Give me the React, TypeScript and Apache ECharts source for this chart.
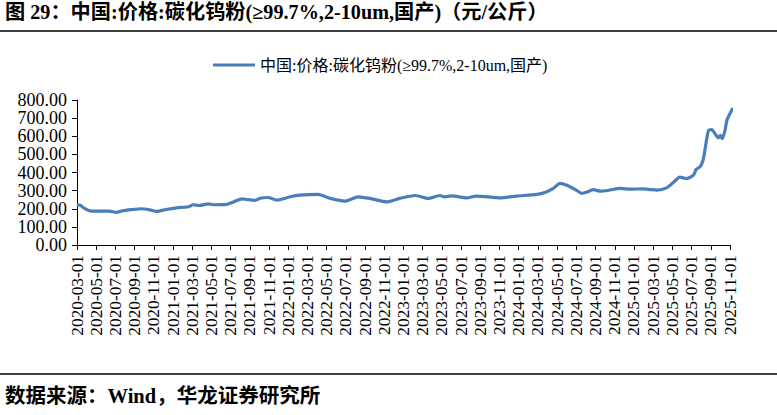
import React, { useEffect, useRef } from "react";
import * as echarts from "echarts";

const seriesName = "中国:价格:碳化钨粉(≥99.7%,2-10um,国产)";
const titleText = "图 29：中国:价格:碳化钨粉(≥99.7%,2-10um,国产)（元/公斤）";
const sourceText = "数据来源：Wind，华龙证券研究所";

const dates = [
  "2020-03-01", "2020-03-10", "2020-03-25", "2020-04-15", "2020-06-12", "2020-07-04", "2020-07-25",
  "2020-08-28", "2020-09-18", "2020-10-19", "2020-11-10", "2020-12-10", "2021-01-13", "2021-02-18",
  "2021-03-04", "2021-03-25", "2021-04-21", "2021-05-07", "2021-06-19", "2021-07-10", "2021-08-07",
  "2021-08-22", "2021-09-16", "2021-10-07", "2021-10-28", "2021-11-25", "2022-01-07", "2022-02-07",
  "2022-04-04", "2022-05-13", "2022-06-28", "2022-08-10", "2022-09-16", "2022-11-10", "2022-12-19",
  "2023-02-07", "2023-03-19", "2023-04-25", "2023-05-10", "2023-06-01", "2023-07-19", "2023-08-19",
  "2023-11-04", "2023-12-25", "2024-02-27", "2024-03-28", "2024-04-19", "2024-05-10", "2024-06-01",
  "2024-06-28", "2024-07-19", "2024-08-04", "2024-08-25", "2024-09-16", "2024-10-16", "2024-11-19",
  "2024-12-19", "2025-02-01", "2025-02-22", "2025-03-13", "2025-04-13", "2025-05-04", "2025-05-25",
  "2025-06-16", "2025-07-07", "2025-07-16", "2025-07-28", "2025-08-07", "2025-08-13", "2025-08-19",
  "2025-08-25", "2025-09-04", "2025-09-16", "2025-09-25", "2025-10-01", "2025-10-07", "2025-10-16",
  "2025-10-22", "2025-11-01", "2025-11-10",
];

const prices = [
  220, 220, 202, 187, 187, 180, 189,
  196, 200, 194, 185, 196, 205, 211,
  222, 218, 227, 222, 224, 237, 255,
  251, 246, 259, 262, 248, 266, 275,
  279, 257, 242, 266, 257, 238, 257,
  273, 257, 273, 266, 271, 260, 270,
  260, 270, 279, 293, 312, 340, 330,
  306, 285, 292, 306, 297, 303, 312,
  308, 310, 306, 303, 315, 345, 374,
  367, 385, 418, 431, 468, 523, 587,
  633, 637, 609, 591, 605, 587, 633,
  688, 725, 756,
];

const yTicks = { min: 0, max: 800, step: 100 };
const xTicks = { startYear: 2020, startMonth: 3, stepMonths: 2, lastIndex: 68 };

function monthIndex(d: string): number {
  const [y, m, day] = d.split("-").map(Number);
  const dim = new Date(y, m, 0).getDate();
  return (y - xTicks.startYear) * 12 + (m - xTicks.startMonth) + (day - 1) / dim;
}

function monthLabel(v: number): string {
  const total = xTicks.startMonth - 1 + Math.round(v);
  const y = xTicks.startYear + Math.floor(total / 12);
  const m = (total % 12) + 1;
  return `${y}-${String(m).padStart(2, "0")}-01`;
}

export default function App() {
  const ref = useRef<HTMLDivElement>(null);
  useEffect(() => {
    if (!ref.current) return;
    const chart = echarts.init(ref.current, undefined, { renderer: "svg" });
    const data = dates.map((d, i) => [monthIndex(d), prices[i]]);
    const serif = "'Liberation Serif', 'Times New Roman', 'Noto Sans CJK SC', serif";
    chart.setOption({
      animation: false,
      backgroundColor: "#ffffff",
      grid: { left: 77, right: 47, top: 100, bottom: 170, containLabel: false },
      legend: {
        left: 208,
        top: 52,
        icon: "rect",
        itemWidth: 42,
        itemHeight: 3,
        textStyle: { fontFamily: serif, fontSize: 16, color: "#000" },
        data: [seriesName],
      },
      xAxis: {
        type: "value",
        min: 0,
        max: xTicks.lastIndex,
        interval: xTicks.stepMonths,
        splitLine: { show: false },
        axisLine: { lineStyle: { color: "#000", width: 1 } },
        axisTick: { length: 5, lineStyle: { color: "#000" } },
        axisLabel: {
          rotate: 90,
          margin: 10,
          color: "#000",
          fontFamily: serif,
          fontSize: 17.3,
          formatter: (v: number) => monthLabel(v),
        },
      },
      yAxis: {
        type: "value",
        min: yTicks.min,
        max: yTicks.max,
        interval: yTicks.step,
        splitLine: { show: false },
        axisLine: { show: true, lineStyle: { color: "#000", width: 1 } },
        axisTick: { show: true, length: 5, lineStyle: { color: "#000" } },
        axisLabel: {
          margin: 10,
          color: "#000",
          fontFamily: serif,
          fontSize: 18,
          formatter: (v: number) => v.toFixed(2),
        },
      },
      series: [
        {
          name: seriesName,
          type: "line",
          data,
          showSymbol: false,
          symbol: "none",
          clip: false,
          smooth: 0.2,
          lineStyle: { color: "#4A7EBB", width: 3.2 },
          itemStyle: { color: "#4A7EBB" },
        },
      ],
      graphic: [
        {
          type: "text",
          left: 5,
          top: 2,
          style: {
            text: titleText,
            fontFamily: serif,
            fontWeight: "bold",
            fontSize: 20.2,
            fill: "#000",
          },
        },
        {
          type: "line",
          shape: { x1: 0, y1: 31, x2: 777, y2: 31 },
          style: { stroke: "#000", lineWidth: 1.5 },
        },
        {
          type: "line",
          shape: { x1: 0, y1: 374, x2: 777, y2: 374 },
          style: { stroke: "#000", lineWidth: 1.5 },
        },
        {
          type: "text",
          left: 5,
          top: 386,
          style: {
            text: sourceText,
            fontFamily: serif,
            fontWeight: "bold",
            fontSize: 20.5,
            fill: "#000",
          },
        },
      ],
    });
    return () => chart.dispose();
  }, []);
  return (
    <div
      ref={ref}
      style={{ position: "fixed", left: 0, top: 0, width: 777, height: 415, background: "#fff" }}
    />
  );
}
